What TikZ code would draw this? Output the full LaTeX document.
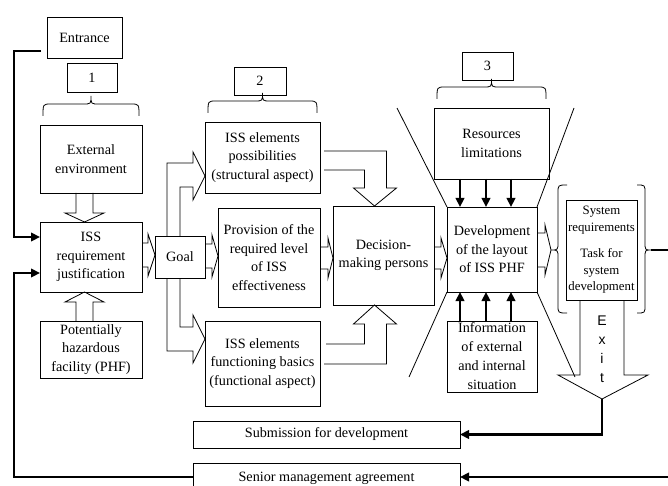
\documentclass[tikz,border=0pt]{standalone}
\usepackage{fontspec}
\setmainfont{Liberation Serif}
\newfontfamily\exitfont{Liberation Sans}
\usetikzlibrary{arrows.meta,calc}
\tikzset{
  bx/.style={draw, line width=0.8pt, outer sep=0pt, inner sep=1pt, align=center,
    font=\fontsize{14.2}{18.5}\selectfont},
  ln/.style={line width=0.8pt},
  blk/.style={line width=0.8pt, line join=miter},
  thkl/.style={line width=2.6pt},
  thk/.style={line width=2.6pt, -{Triangle[length=9pt,width=8.5pt]}},
}
% horizontal open block arrow: #1 start, #2 tip, #3 shaft half width, #4 head half width, #5 head length
\newcommand\hblock[5]{%
  \draw[blk] let \p1=(#1), \p2=(#2) in
    (\x1,\y2+#3pt) -- (\x2-#5pt,\y2+#3pt) -- (\x2-#5pt,\y2+#4pt) -- (\p2)
    -- (\x2-#5pt,\y2-#4pt) -- (\x2-#5pt,\y2-#3pt) -- (\x1,\y2-#3pt);}
% brace above a node
\newcommand\tbrace[1]{%
  \draw[ln] let \p1=(#1.north west), \p2=(#1.north east), \p3=(#1.north) in
    (\x1+3pt,\y1+9pt) .. controls (\x1+3pt,\y1+21pt) .. (\x1+11pt,\y1+21pt)
    -- (\x3-8pt,\y1+21pt) .. controls (\x3,\y1+21pt) .. (\x3,\y1+29pt)
    .. controls (\x3,\y1+21pt) .. (\x3+8pt,\y1+21pt)
    -- (\x2-11pt,\y1+21pt) .. controls (\x2-3pt,\y1+21pt) .. (\x2-3pt,\y1+9pt);}
\begin{document}
\begin{tikzpicture}[x=1pt,y=-1pt]
\useasboundingbox (0,0) rectangle (668,486);

% ---- nodes ----
\node[bx, minimum width=75, minimum height=41] (entrance) at (84.5,37.5) {Entrance};
\node[bx, minimum width=50, minimum height=29] (one) at (92,77.5) {1};
\node[bx, minimum width=102, minimum height=68] (ext) at (91,159) {External\\environment};
\node[bx, minimum width=102, minimum height=70] (iss) at (91,257) {ISS\\requirement\\justification};
\node[bx, minimum width=102, minimum height=57] (phf) at (91,349.5) {Potentially\\hazardous\\facility (PHF)};
\node[bx, minimum width=50, minimum height=42] (goal) at (180,257) {Goal};
\node[bx, minimum width=52, minimum height=28] (two) at (260,81) {2};
\node[bx, minimum width=115, minimum height=71] (struct) at (262.5,157.5) {ISS elements\\possibilities\\(structural aspect)};
\node[bx, minimum width=102, minimum height=99] (prov) at (269,257.5) {Provision of the\\required level\\of ISS\\effectiveness};
\node[bx, minimum width=115, minimum height=85] (func) at (262.5,363.5) {ISS elements\\functioning basics\\(functional aspect)};
\node[bx, minimum width=101, minimum height=99] (dec) at (383.5,255.5) {Decision-\\making persons};
\node[bx, minimum width=51, minimum height=28] (three) at (487.5,66) {3};
\node[bx, minimum width=115, minimum height=71] (res) at (491.5,143.5) {Resources\\limitations};
\node[bx, minimum width=90, minimum height=85] (dev) at (492,249.5) {Development\\of the layout\\of ISS PHF};
\node[bx, minimum width=90, minimum height=71, inner sep=0pt,
  font=\fontsize{14.2}{19}\selectfont] (info) at (492,356.5) {Information\\of external\\and internal\\situation};
\node[bx, minimum width=71, minimum height=100, inner sep=0pt,
  font=\fontsize{12.8}{16.5}\selectfont] (sys) at (601.5,250)
  {System\\requirements\\[10pt]Task for\\system\\development};
\node[bx, minimum width=267, minimum height=27] (sub) at (326.5,434.5) {Submission for development};
\node[bx, draw=none, minimum width=267, minimum height=23, text height=13pt, text depth=0pt]
  (sen) at (326.5,474.5) {Senior management agreement};
\draw[ln] (sen.south west) -- (sen.north west) -- (sen.north east) -- (sen.south east);

% ---- braces ----
\tbrace{ext}
\tbrace{struct}
\tbrace{res}
\coordinate (lbt) at ($(sys.west)+(-15,0)$);
\coordinate (rbt) at ($(sys.east)+(14,0)$);
\draw[ln] let \p1=(sys.west) in
  (\x1+1pt,\y1+65pt) .. controls (\x1-8pt,\y1+65pt) .. (\x1-8pt,\y1+57pt)
  -- (\x1-8pt,\y1+8pt) .. controls (\x1-8pt,\y1) .. (\x1-15pt,\y1)
  .. controls (\x1-8pt,\y1) .. (\x1-8pt,\y1-8pt)
  -- (\x1-8pt,\y1-55pt) .. controls (\x1-8pt,\y1-63pt) .. (\x1+1pt,\y1-63pt);
\draw[ln] let \p1=(sys.east) in
  (\x1,\y1+65pt) .. controls (\x1+8pt,\y1+65pt) .. (\x1+8pt,\y1+57pt)
  -- (\x1+8pt,\y1+8pt) .. controls (\x1+8pt,\y1) .. (\x1+14pt,\y1)
  .. controls (\x1+8pt,\y1) .. (\x1+8pt,\y1-8pt)
  -- (\x1+8pt,\y1-55pt) .. controls (\x1+8pt,\y1-63pt) .. (\x1,\y1-63pt);

% ---- open block arrows ----
% external environment -> ISS
\draw[blk] let \p1=(ext.south), \p2=(iss.north) in
  (\x1-15pt,\y1) -- (\x1-15pt,\y2+9pt) -- (\x1-26pt,\y2+9pt) -- (\x1-6.5pt,\y2)
  -- (\x1+13pt,\y2+9pt) -- (\x1+2pt,\y2+9pt) -- (\x1+2pt,\y1);
% PHF -> ISS
\draw[blk] let \p1=(phf.north), \p2=(iss.south) in
  (\x1-15pt,\y1) -- (\x1-15pt,\y2-10pt) -- (\x1-26pt,\y2-10pt) -- (\x1-6.5pt,\y2)
  -- (\x1+13pt,\y2-10pt) -- (\x1+2pt,\y2-10pt) -- (\x1+2pt,\y1);
% small horizontal arrows
\hblock{iss.east}{$(goal.west)+(0,-2)$}{12}{21}{7}
\hblock{goal.east}{$(prov.west)+(0,-1.5)$}{12}{21}{6}
\hblock{prov.east}{$(dec.west)+(0,2.5)$}{11}{20}{5}
\hblock{dec.east}{$(dev.west)+(0,8.5)$}{11}{20}{6}
\hblock{dev.east}{lbt}{17}{25}{6}
% goal -> structural
\draw[blk] let \p1=(goal.north), \p2=($(struct.south west)+(0,-17)$) in
  (\x1-13pt,\y1) |- (\x2-12pt,\y2+13pt) -- (\x2-12pt,\y2+24pt) -- (\p2)
  -- (\x2-12pt,\y2-24pt) -- (\x2-12pt,\y2-11pt) -| (\x1,\y1);
% goal -> functional
\draw[blk] let \p1=(goal.south), \p2=($(func.north west)+(0,18)$) in
  (\x1,\y1) |- (\x2-12pt,\y2+12pt) -- (\x2-12pt,\y2+24pt) -- (\p2)
  -- (\x2-12pt,\y2-24pt) -- (\x2-12pt,\y2-12pt) -| (\x1-13pt,\y1);
% structural -> decision
\draw[blk] let \p1=(struct.north east), \p2=($(dec.north)+(-9,0)$) in
  (\x1+4pt,\y1-29pt) -| (\x2+12pt,\y2+18pt) -- (\x2+22pt,\y2+18pt) -- (\p2)
  -- (\x2-21pt,\y2+18pt) -- (\x2-10pt,\y2+18pt) |- (\x1+4pt,\y1-48pt);
% functional -> decision
\draw[blk] let \p1=(func.north east), \p2=($(dec.south)+(-9,0)$) in
  (\x1+4pt,\y1-43pt) -| (\x2+12pt,\y2-19pt) -- (\x2+22pt,\y2-19pt) -- (\p2)
  -- (\x2-21pt,\y2-19pt) -- (\x2-10pt,\y2-19pt) |- (\x1+6pt,\y1-23pt);

% ---- funnel lines ----
\draw[ln] ($(dev.north west)+(-50,-99)$) -- (dev.north west);
\draw[ln] ($(dev.north east)+(37,-99)$) -- (dev.north east);
\draw[ln] (dev.south west) -- ($(dev.south west)+(-38,85)$);
\draw[ln] (dev.south east) -- ($(dev.south east)+(38,85)$);

% ---- resources / information arrows ----
\foreach \dx in {-32,-6,19}{
  \draw[thk] let \p1=(res.south), \p2=(dev.north) in (\x2+\dx pt,\y1) -- (\x2+\dx pt,\y2);
  \draw[thk] let \p1=(info.north), \p2=(dev.south) in (\x2+\dx pt,\y1-1pt) -- (\x2+\dx pt,\y2);
}

% ---- exit arrow ----
\coordinate (exittip) at ($(sys.south)+(0.5,99)$);
\draw[blk] let \p1=(sys.south), \p2=(exittip) in
  (\x2-22pt,\y1) -- (\x2-22pt,\y2+24pt) -- (\x2-44pt,\y2+24pt) -- (\p2)
  -- (\x2+46pt,\y2+24pt) -- (\x2+22pt,\y2+24pt) -- (\x2+22pt,\y1);
\node[font=\exitfont\fontsize{14}{19}\selectfont, align=center, inner sep=0pt] (exitlbl)
  at (602,349) {E\\x\\i\\t};

% ---- thick connectors ----
\coordinate (redgeA) at (668,250);
\coordinate (redgeB) at (668,477);
\draw[thk] ($(entrance.south west)+(-6,-7)$) -| ($(iss.north west)+(-26,15)$) -- ($(iss.north west)+(0,15)$);
\draw[thk] ($(sen.south west)+(0,-9)$) -| ($(iss.south west)+(-26,-19)$) -- ($(iss.south west)+(0,-19)$);
\draw[thk] (exittip) |- (sub.east);
\draw[thkl] (rbt) -- (redgeA);
\draw[thk] (redgeB) -- ($(sen.south east)+(0,-9)$);
\end{tikzpicture}
\end{document}
